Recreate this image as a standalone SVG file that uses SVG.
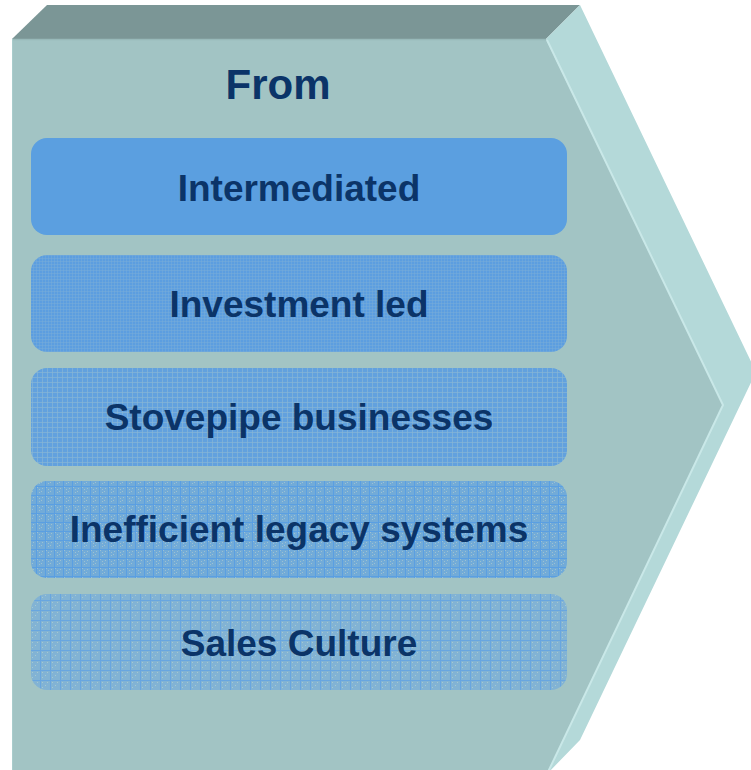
<svg xmlns="http://www.w3.org/2000/svg" width="751" height="770" viewBox="0 0 751 770">
<style>
.lbl{font-family:"Liberation Sans",Arial,sans-serif;font-weight:bold;fill:#0b3468;text-anchor:middle}
.box-t{font-size:37px}
</style>
<defs>
<pattern id="p2" width="3" height="3" patternUnits="userSpaceOnUse">
<rect width="3" height="3" fill="#5c9ee0"/>
<rect width="3" height="1" fill="#7aaed8" opacity="0.45"/>
<rect width="1" height="3" fill="#7aaed8" opacity="0.45"/>
</pattern>
<pattern id="p3" width="5" height="5" patternUnits="userSpaceOnUse">
<rect width="5" height="5" fill="#62a1de"/>
<rect x="2" y="0" width="1" height="5" fill="#86b6d6" opacity="0.7"/>
<rect x="0" y="2" width="5" height="1" fill="#86b6d6" opacity="0.7"/>
</pattern>
<pattern id="p4" width="9" height="9" patternUnits="userSpaceOnUse">
<rect width="9" height="9" fill="#72abd8"/>
<rect x="1" y="1" width="1" height="1" fill="#9cc1d2"/>
<rect x="3" y="3" width="1" height="1" fill="#9cc1d2"/>
<rect x="5" y="5" width="1" height="1" fill="#9cc1d2"/>
<rect x="3" y="6" width="1" height="1" fill="#9cc1d2"/>
<rect x="6" y="2" width="1" height="1" fill="#9cc1d2"/>
<rect x="0" y="0" width="9" height="1" fill="#5a9fe2"/>
<rect x="0" y="0" width="1" height="9" fill="#5a9fe2"/>
</pattern>
<pattern id="p5" width="10" height="10" patternUnits="userSpaceOnUse">
<rect width="10" height="10" fill="#82b3d4"/>
<rect x="2" y="2" width="1" height="1" fill="#a6c8d0"/>
<rect x="5" y="5" width="1" height="1" fill="#a6c8d0"/>
<rect x="7" y="2" width="1" height="1" fill="#a6c8d0"/>
<rect x="2" y="7" width="1" height="1" fill="#a6c8d0"/>
<rect x="0" y="0" width="10" height="1" fill="#68a6e0"/>
<rect x="0" y="0" width="1" height="10" fill="#68a6e0"/>
</pattern>
</defs>
<g id="chevron">
<polygon points="12,39 47,5 580,5 546,39" fill="#7b9696"/>
<polygon points="546,39 580,5 756,372 580,740 547,774 723,405" fill="#b4d9d9"/>
<polygon points="12,39 546,39 723,405 547,774 12,774" fill="#a2c4c4"/>
<polyline points="547,40 723,405 548,772" fill="none" stroke="#c9e8e8" stroke-width="2"/>
<line x1="12" y1="39.5" x2="546" y2="39.5" stroke="#98b9b9" stroke-width="1.5"/>
<line x1="12.5" y1="39" x2="12.5" y2="770" stroke="#a9cccc" stroke-width="1"/>
</g>
<g id="title">
<text class="lbl" x="278" y="99" font-size="42">From</text>
</g>
<g id="node1">
<rect x="31" y="138" width="536" height="97" rx="16" fill="#5b9fe0"/>
<text class="lbl box-t" x="299" y="201">Intermediated</text>
</g>
<g id="node2">
<rect x="31" y="255" width="536" height="97" rx="16" fill="url(#p2)"/>
<text class="lbl box-t" x="299" y="317">Investment led</text>
</g>
<g id="node3">
<rect x="31" y="368" width="536" height="98" rx="16" fill="url(#p3)"/>
<text class="lbl box-t" x="299" y="430">Stovepipe businesses</text>
</g>
<g id="node4">
<rect x="31" y="481" width="536" height="97" rx="16" fill="url(#p4)"/>
<text class="lbl box-t" x="299" y="542">Inefficient legacy systems</text>
</g>
<g id="node5">
<rect x="31" y="594" width="536" height="96" rx="16" fill="url(#p5)"/>
<text class="lbl box-t" x="299" y="656">Sales Culture</text>
</g>
<g id="connectors"/>
</svg>
